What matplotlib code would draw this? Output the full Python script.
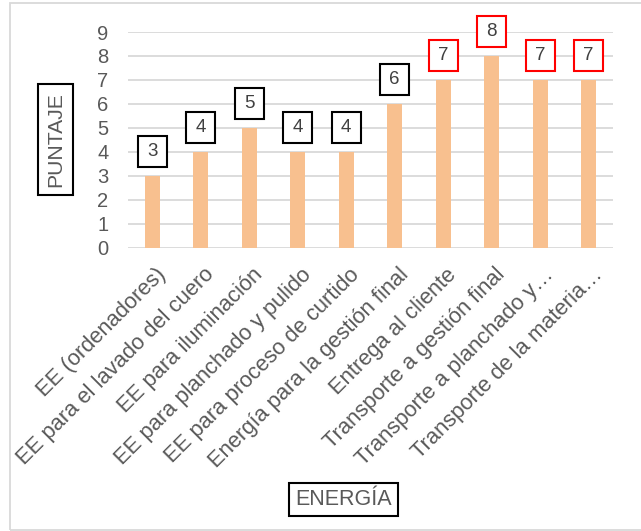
import matplotlib
matplotlib.use("Agg")
import matplotlib.pyplot as plt
from matplotlib.patches import Rectangle
from matplotlib.path import Path
from matplotlib.transforms import ScaledTranslation

plt.rcParams['font.family'] = ['Liberation Sans', 'DejaVu Sans']

categories = [
    "EE (ordenadores)",
    "EE para el lavado del cuero",
    "EE para iluminación",
    "EE para planchado y pulido",
    "EE para proceso de curtido",
    "Energía para la gestión final",
    "Entrega al cliente",
    "Transporte a gestión final",
    "Transporte a planchado y…",
    "Transporte de la materia…",
]
scores = [3, 4, 5, 4, 4, 6, 7, 8, 7, 7]
highlight = [False, False, False, False, False, False, True, True, True, True]
y_ticks = list(range(0, 10))


def label_box(x0, y0, width, height, mutation_size):
    """Square callout frame with wider side padding than top/bottom."""
    px = 0.5 * mutation_size
    py = 0.38 * mutation_size
    verts = [(x0 - px, y0 - py), (x0 + width + px, y0 - py),
             (x0 + width + px, y0 + height + py), (x0 - px, y0 + height + py),
             (x0 - px, y0 - py)]
    return Path(verts, closed=True)


W, H = 641, 531
fig = plt.figure(figsize=(W / 100, H / 100), dpi=100)
fig.patch.set_facecolor('white')

# outer chart frame
fig.patches.append(Rectangle((10 / W, 1 - 530 / H), (W + 20) / W, 527 / H,
                             transform=fig.transFigure, fill=False,
                             edgecolor='#D9D9D9', linewidth=1.3))

ax = fig.add_axes([128 / W, 1 - 247.5 / H, (613 - 128) / W, (247.5 - 32) / H])
x = list(range(len(categories)))
bars = ax.bar(x, scores, width=0.31, color='#F8C08F', zorder=2)

ax.set_xlim(-0.5, len(categories) - 0.5)
ax.set_ylim(0, 9)
ax.set_yticks(y_ticks)
ax.yaxis.grid(True, color='#D9D9D9', linewidth=1.3, zorder=0)
ax.set_axisbelow(True)
for s in ax.spines.values():
    s.set_visible(False)
ax.tick_params(axis='both', length=0, colors='#595959', labelsize=14.5)
ax.tick_params(axis='y', pad=14)
ax.tick_params(axis='x', pad=12)

ax.set_xticks(x)
ax.set_xticklabels(categories, rotation=45, ha='right', va='top',
                   rotation_mode='anchor', fontsize=15.8, color='#595959')
shift = ScaledTranslation(3 / 100, 0, fig.dpi_scale_trans)
for lbl in ax.get_xticklabels():
    lbl.set_transform(lbl.get_transform() + shift)

for xi, v, hl in zip(x, scores, highlight):
    ax.annotate(str(v), (xi, v), xytext=(0, 11.5), textcoords='offset points',
                ha='center', va='bottom', fontsize=13.5, color='#404040',
                bbox=dict(boxstyle=label_box, facecolor='white',
                          edgecolor='#FF0000' if hl else 'black', linewidth=1.5),
                zorder=3)

fig.text(55.5 / W, 1 - 139.5 / H, "PUNTAJE", rotation=90, ha='center', va='center',
         fontsize=15.2, color='#595959',
         bbox=dict(boxstyle='square,pad=0.36', facecolor='white',
                   edgecolor='black', linewidth=1.5))
fig.text(343.5 / W, 1 - 499.5 / H, "ENERGÍA", ha='center', va='center',
         fontsize=15.5, color='#595959',
         bbox=dict(boxstyle='square,pad=0.28', facecolor='white',
                   edgecolor='black', linewidth=1.5))

fig.savefig('out.png', dpi=100)
